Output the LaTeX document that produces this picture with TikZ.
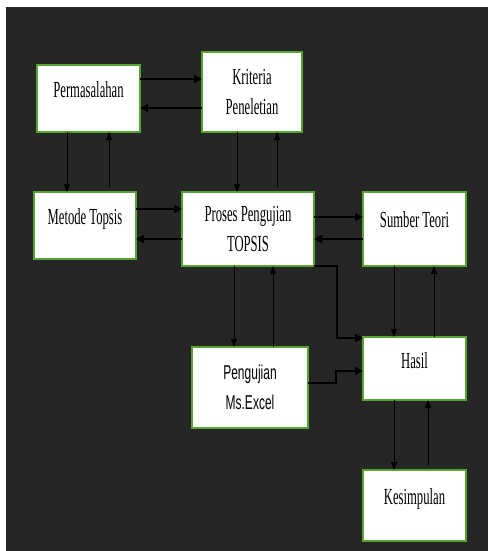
\documentclass[tikz,border=0pt]{standalone}
\usepackage{fontspec}
\setmainfont{Liberation Serif}
\newfontfamily\serifc[FakeStretch=0.55]{Liberation Serif}
\newfontfamily\sansc[FakeStretch=0.6]{Liberation Sans}
\usetikzlibrary{arrows.meta}
\definecolor{bgdark}{RGB}{38,38,38}
\definecolor{boxgreen}{RGB}{86,165,48}
\begin{document}
\begin{tikzpicture}[x=1pt,y=-1pt,
  box/.style={draw=boxgreen, line width=2pt, fill=white, inner sep=0pt, outer sep=0pt},
  sertext/.style={font=\serifc\fontsize{23}{30}\selectfont, text=black, align=center},
  santext/.style={font=\sansc\fontsize{20}{30}\selectfont, text=black, align=center},
  lbl/.style={font=\serifc\fontsize{23}{30}\selectfont, text=black, text height=15pt, text depth=0pt, inner sep=0pt},
  harr/.style={line width=2pt, draw=black, -{Triangle[length=8pt,width=8pt]}},
  varr/.style={line width=1pt, draw=black, -{Triangle[length=8pt,width=6pt]}},
]
\useasboundingbox (0,0) rectangle (488,551);
\fill[white] (0,0) rectangle (488,551);
\fill[bgdark] (6,7) rectangle (488,551);

% boxes
\node[box, minimum width=103pt, minimum height=67pt, label={[lbl,yshift=8.5pt]center:Permasalahan}] (P) at (88.5,98.5) {};
\node[box, sertext, minimum width=100pt, minimum height=80pt] (K) at (252,92) {Kriteria\\Peneletian};
\node[box, minimum width=102pt, minimum height=67pt, label={[lbl,yshift=9pt]center:Metode Topsis}] (M) at (85,225.5) {};
\node[box, sertext, minimum width=132pt, minimum height=74pt] (T) at (248,229) {Proses Pengujian\\TOPSIS};
\node[box, minimum width=103pt, minimum height=74pt, label={[lbl,yshift=9.3pt]center:Sumber Teori}] (S) at (414.5,229) {};
\node[box, santext, minimum width=116pt, minimum height=81pt] (E) at (250,387.5) {Pengujian\\Ms.Excel};
\node[box, minimum width=103pt, minimum height=63pt, label={[lbl,yshift=7.5pt]center:Hasil}] (H) at (414.5,368.5) {};
\node[box, minimum width=103pt, minimum height=71pt, label={[lbl,yshift=8.5pt]center:Kesimpulan}] (C) at (414.5,505.5) {};

% helper coordinates
\coordinate (xa1) at (67,0);
\coordinate (xa2) at (109,0);
\coordinate (xb1) at (237,0);
\coordinate (xb2) at (277,0);
\coordinate (xc1) at (234,0);
\coordinate (xc2) at (273,0);
\coordinate (xd1) at (394,0);
\coordinate (xd2) at (434,0);
\coordinate (xe2) at (428,0);
\coordinate (xf1) at (337,0);
\coordinate (xg1) at (336,0);
\coordinate (r1) at (0,79);
\coordinate (r2) at (0,108);
\coordinate (r3) at (0,209);
\coordinate (r4) at (0,239);
\coordinate (r5) at (0,217);
\coordinate (r6) at (0,239);
\coordinate (yf1) at (0,338);
\coordinate (yg1) at (0,383);
\coordinate (yg2) at (0,371);

% connectors
\draw[harr] (P.east |- r1) -- (K.west |- r1);
\draw[harr] (K.west |- r2) -- (P.east |- r2);
\draw[varr] (P.south -| xa1) -- (M.north -| xa1);
\draw[varr, shorten <=5pt] (M.north -| xa2) -- (P.south -| xa2);
\draw[varr] (K.south -| xb1) -- (T.north -| xb1);
\draw[varr, shorten <=5pt] (T.north -| xb2) -- (K.south -| xb2);
\draw[harr] (M.east |- r3) -- (T.west |- r3);
\draw[harr] (T.west |- r4) -- (M.east |- r4);
\draw[harr] (T.east |- r5) -- (S.west |- r5);
\draw[harr] (S.west |- r6) -- (T.east |- r6);
\draw[varr] (T.south -| xc1) -- (E.north -| xc1);
\draw[varr] (E.north -| xc2) -- (T.south -| xc2);
\draw[varr] (S.south -| xd1) -- (H.north -| xd1);
\draw[varr] (H.north -| xd2) -- (S.south -| xd2);
\draw[varr] (H.south -| xd1) -- (C.north -| xd1);
\draw[varr, shorten <=5pt] (C.north -| xe2) -- (H.south -| xe2);
\draw[harr] (T.south east) -- (T.south east -| xf1) -- (xf1 |- yf1) -- (H.west |- yf1);
\draw[harr] (E.east |- yg1) -- (xg1 |- yg1) -- (xg1 |- yg2) -- (H.west |- yg2);
\end{tikzpicture}
\end{document}
